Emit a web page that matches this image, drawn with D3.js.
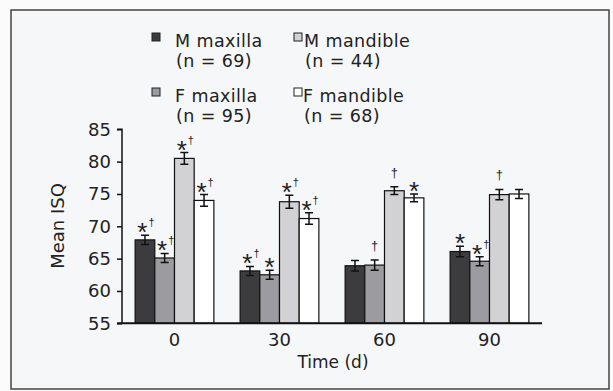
<!DOCTYPE html>
<html>
<head>
<meta charset="utf-8">
<script src="https://cdn.jsdelivr.net/npm/d3@7"></script>
<style>
  html, body { margin: 0; padding: 0; background: #fbfbfb; }
  svg { display: block; font-family: "DejaVu Sans", sans-serif; }
</style>
</head>
<body>
<script>
const times = ["0", "30", "60", "90"];
const series = ["M maxilla", "F maxilla", "M mandible", "F mandible"];

const mMaxilla = [67.9, 63.1, 63.9, 66.1];
const fMaxilla = [65.1, 62.5, 64.0, 64.6];
const mMandible = [80.5, 73.8, 75.5, 74.9];
const fMandible = [74.0, 71.2, 74.4, 75.0];

const mMaxillaErr = [0.7, 0.7, 0.8, 0.8];
const fMaxillaErr = [0.7, 0.7, 0.8, 0.7];
const mMandibleErr = [0.9, 1.0, 0.6, 0.8];
const fMandibleErr = [0.9, 0.9, 0.6, 0.7];

const mMaxillaSig = ["*†", "*†", "", "*"];
const fMaxillaSig = ["*†", "*", "†", "*†"];
const mMandibleSig = ["*†", "*†", "†", "†"];
const fMandibleSig = ["*†", "*†", "*", ""];

const legendLabels = ["M maxilla", "M mandible", "F maxilla", "F mandible"];
const legendN = ["(n = 69)", "(n = 44)", "(n = 95)", "(n = 68)"];
const legendSeries = ["M maxilla", "M mandible", "F maxilla", "F mandible"];

const yTicks = [55, 60, 65, 70, 75, 80, 85];

const values = [mMaxilla, fMaxilla, mMandible, fMandible];
const errors = [mMaxillaErr, fMaxillaErr, mMandibleErr, fMandibleErr];
const sigs = [mMaxillaSig, fMaxillaSig, mMandibleSig, fMandibleSig];

const colors = {
  "M maxilla": "#3c3c3e",
  "F maxilla": "#9c9ca0",
  "M mandible": "#d2d2d4",
  "F mandible": "#ffffff"
};

const width = 613;
const height = 391;
const ink = "#222";

const rows = [];
times.forEach((t, i) => {
  series.forEach((s, j) => {
    rows.push({ time: t, series: s, value: values[j][i], err: errors[j][i], sig: sigs[j][i] });
  });
});

const svg = d3.select("body")
  .append("svg")
  .attr("width", width)
  .attr("height", height);

svg.append("rect")
  .attr("x", 11)
  .attr("y", 10)
  .attr("width", 598)
  .attr("height", 379)
  .attr("fill", "#f6f7f8")
  .attr("stroke", "#444")
  .attr("stroke-width", 1.5);

const x = d3.scaleBand()
  .domain(times)
  .range([122, 542])
  .paddingInner(0.25)
  .paddingOuter(0.125);

const xs = d3.scaleBand()
  .domain(series)
  .range([0, x.bandwidth()]);

const y = d3.scaleLinear()
  .domain([55, 85])
  .range([323.3, 129.3]);

// bars
svg.append("g")
  .selectAll("rect")
  .data(rows)
  .join("rect")
  .attr("x", d => x(d.time) + xs(d.series))
  .attr("y", d => y(d.value))
  .attr("width", xs.bandwidth())
  .attr("height", d => y(55) - y(d.value))
  .attr("fill", d => colors[d.series])
  .attr("stroke", "#111")
  .attr("stroke-width", 1.2);

// error bars
const eb = svg.append("g")
  .attr("stroke", "#111")
  .attr("stroke-width", 1.5)
  .attr("fill", "none");

rows.forEach(d => {
  const cx = x(d.time) + xs(d.series) + xs.bandwidth() / 2;
  const y0 = y(d.value - d.err);
  const y1 = y(d.value + d.err);
  eb.append("path")
    .attr("d", `M${cx},${y0}V${y1}M${cx - 4},${y0}H${cx + 4}M${cx - 4},${y1}H${cx + 4}`);
});

// significance marks (* and dagger)
const sg = svg.append("g")
  .attr("text-anchor", "middle")
  .attr("fill", ink)
  .style("font-family", "'Liberation Sans', Arial, sans-serif");

rows.filter(d => d.sig).forEach(d => {
  const cx = x(d.time) + xs(d.series) + xs.bandwidth() / 2;
  const top = y(d.value + d.err);
  if (d.sig.startsWith("*")) {
    const t = sg.append("text")
      .attr("x", cx + (d.sig.length > 1 ? 1 : 0))
      .attr("y", top + 6);
    t.append("tspan").attr("font-size", 26).text("*");
    if (d.sig.includes("†")) {
      t.append("tspan").attr("font-size", 11).attr("dy", -15).attr("dx", 1).text("†");
    }
  } else {
    sg.append("text")
      .attr("x", cx)
      .attr("y", top - 10)
      .attr("font-size", 13)
      .text("†");
  }
});

// axes
const yAxis = svg.append("g")
  .attr("transform", "translate(122,0)")
  .call(d3.axisLeft(y).tickValues(yTicks).tickSize(5).tickPadding(6));

yAxis.select(".domain").attr("stroke", "#111").attr("stroke-width", 1.5)
  .attr("d", `M-5,${y(85)}H0V${y(55)}`);
yAxis.selectAll(".tick line").attr("stroke", "#111").attr("stroke-width", 1.5);
yAxis.selectAll(".tick text")
  .attr("font-size", 18)
  .attr("fill", ink)
  .attr("font-family", "DejaVu Sans, sans-serif");

const xAxis = svg.append("g")
  .attr("transform", `translate(0,${y(55)})`)
  .call(d3.axisBottom(x).tickSize(0).tickPadding(10));

xAxis.select(".domain").attr("stroke", "#111").attr("stroke-width", 2)
  .attr("d", "M117,0H542");
xAxis.selectAll(".tick text")
  .attr("font-size", 18)
  .attr("fill", ink)
  .attr("font-family", "DejaVu Sans, sans-serif");

svg.append("text")
  .attr("x", 333)
  .attr("y", 368)
  .attr("text-anchor", "middle")
  .attr("font-size", 17)
  .attr("fill", ink)
  .text("Time (d)");

svg.append("text")
  .attr("transform", "translate(64,226) rotate(-90)")
  .attr("text-anchor", "middle")
  .attr("font-size", 18)
  .attr("fill", ink)
  .text("Mean ISQ");

// legend
const legendPos = [
  { sx: 152, sy: 33, tx: 175, ty: 46.5 },
  { sx: 294, sy: 33, tx: 304, ty: 46.5 },
  { sx: 152, sy: 88, tx: 175, ty: 101.5 },
  { sx: 294, sy: 88, tx: 303, ty: 101.5 }
];

const lg = svg.append("g");
legendLabels.forEach((lab, i) => {
  const p = legendPos[i];
  lg.append("rect")
    .attr("x", p.sx)
    .attr("y", p.sy)
    .attr("width", 8)
    .attr("height", 8)
    .attr("fill", colors[legendSeries[i]])
    .attr("stroke", "#222")
    .attr("stroke-width", 1);
  lg.append("text")
    .attr("x", p.tx)
    .attr("y", p.ty)
    .attr("font-size", 17.5)
    .attr("letter-spacing", 0.4)
    .attr("fill", ink)
    .text(lab);
  lg.append("text")
    .attr("x", p.tx + 1)
    .attr("y", p.ty + 20)
    .attr("font-size", 17.5)
    .attr("letter-spacing", 0.4)
    .attr("fill", ink)
    .text(legendN[i]);
});
</script>
</body>
</html>
